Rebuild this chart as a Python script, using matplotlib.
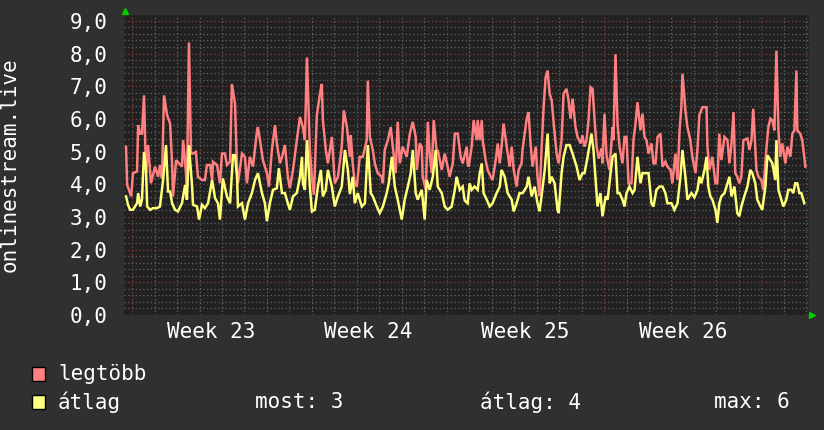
import matplotlib
matplotlib.use("Agg")
import matplotlib.pyplot as plt
from matplotlib.patches import Rectangle
from matplotlib.ticker import MultipleLocator

# ── data (days since start of week 23) ────────────────────────────────────────
max_t = [
    -0.27, -0.22, -0.04, 0.04, 0.22, 0.27, 0.36, 0.44, 0.53, 0.62, 0.71, 0.84,
    1.02, 1.16, 1.24, 1.33, 1.42, 1.56, 1.69, 1.78, 1.82, 1.96, 2.22, 2.27,
    2.36, 2.44, 2.53, 2.62, 2.71, 2.84, 2.93, 3.11, 3.24, 3.33, 3.47, 3.56,
    3.60, 3.78, 3.91, 4.00, 4.13, 4.22, 4.36, 4.44, 4.58, 4.67, 4.71, 4.89,
    5.02, 5.11, 5.24, 5.38, 5.56, 5.60, 5.69, 5.82, 6.00, 6.09, 6.22, 6.36,
    6.44, 6.58, 6.67, 6.80, 6.93, 7.02, 7.16, 7.33, 7.47, 7.60, 7.69, 7.78,
    7.91, 8.00, 8.09, 8.22, 8.36, 8.44, 8.49, 8.62, 8.71, 8.89, 9.02, 9.16,
    9.33, 9.42, 9.56, 9.69, 9.73, 9.82, 9.91, 10.00, 10.13, 10.27, 10.44, 10.49,
    10.58, 10.71, 10.80, 10.93, 11.11, 11.16, 11.24, 11.38, 11.51, 11.60, 11.73, 11.82,
    11.91, 12.04, 12.22, 12.36, 12.49, 12.62, 12.67, 12.80, 12.89, 12.93, 13.07, 13.16,
    13.24, 13.33, 13.42, 13.56, 13.60, 13.78, 13.91, 14.04, 14.13, 14.27, 14.36, 14.49,
    14.62, 14.71, 14.89, 14.93, 14.98, 15.11, 15.20, 15.33, 15.38, 15.47, 15.56, 15.60,
    15.73, 15.82, 15.96, 16.04, 16.18, 16.27, 16.36, 16.44, 16.53, 16.67, 16.80, 16.89,
    16.98, 17.11, 17.20, 17.33, 17.38, 17.56, 17.64, 17.73, 17.82, 17.96, 18.04, 18.13,
    18.22, 18.31, 18.40, 18.49, 18.58, 18.67, 18.76, 18.89, 18.98, 19.11, 19.20, 19.33,
    19.42, 19.51, 19.60, 19.73, 19.82, 19.96, 20.04, 20.13, 20.22, 20.31, 20.40, 20.49,
    20.58, 20.67, 20.76, 20.89, 20.93, 21.02, 21.11, 21.24, 21.38, 21.42, 21.51, 21.60,
    21.69, 21.82, 21.91, 22.00, 22.09, 22.22, 22.31, 22.40, 22.49, 22.62, 22.71, 22.80,
    22.89, 22.98, 23.11, 23.20, 23.29, 23.38, 23.51, 23.60, 23.73, 23.82, 23.96, 24.04,
    24.18, 24.27, 24.36, 24.44, 24.49, 24.62, 24.71, 24.84, 24.93, 25.07, 25.16, 25.24,
    25.38, 25.56, 25.60, 25.69, 25.82, 25.96, 26.04, 26.13, 26.22, 26.36, 26.49, 26.58,
    26.67, 26.76, 26.84, 26.93, 27.02, 27.11, 27.20, 27.38, 27.47, 27.56, 27.64, 27.78,
    27.87, 28.00, 28.09, 28.22, 28.31, 28.40, 28.49, 28.58, 28.67, 28.76, 28.84, 28.93,
    29.07, 29.16, 29.29, 29.38, 29.47, 29.56, 29.60, 29.73, 29.82, 29.96,
]
max_v = [
    5.15, 3.98, 3.63, 4.34, 4.39, 5.81, 5.55, 5.55, 6.72, 4.34, 5.20, 4.03,
    4.54, 4.23, 4.59, 4.18, 6.72, 6.11, 5.86, 4.64, 3.63, 4.74, 4.54, 5.35,
    4.69, 3.93, 8.34, 4.94, 4.94, 4.99, 4.23, 4.13, 4.13, 4.59, 4.59, 4.13,
    4.69, 4.59, 4.03, 4.94, 4.94, 4.59, 4.69, 7.07, 6.46, 4.44, 4.03, 4.94,
    4.84, 4.03, 4.84, 4.54, 5.65, 5.75, 5.35, 4.74, 4.34, 3.93, 5.05, 5.81,
    5.25, 4.64, 4.84, 5.20, 4.23, 3.88, 4.44, 5.35, 6.06, 5.75, 5.35, 7.88,
    5.05, 4.23, 3.68, 6.11, 6.77, 7.07, 5.96, 5.05, 4.64, 5.45, 4.03, 4.23,
    5.15, 6.26, 5.75, 4.84, 5.50, 4.60, 4.03, 3.93, 4.84, 4.84, 5.35, 7.17,
    5.45, 5.05, 4.64, 4.34, 4.23, 4.03, 5.05, 5.35, 5.75, 5.15, 4.34, 5.91,
    4.64, 5.15, 4.84, 5.55, 5.91, 5.45, 4.44, 5.25, 5.15, 4.23, 3.83, 5.91,
    4.94, 4.34, 5.96, 4.94, 5.05, 4.44, 4.94, 4.54, 4.23, 4.64, 5.55, 5.55,
    4.84, 4.64, 5.15, 4.64, 4.54, 5.15, 5.96, 5.35, 5.96, 5.35, 5.96, 5.35,
    4.74, 4.44, 4.23, 4.13, 4.74, 5.25, 4.64, 5.15, 5.86, 5.15, 4.54, 5.15,
    4.44, 3.93, 4.44, 4.64, 5.10, 6.01, 6.21, 5.25, 4.54, 5.15, 4.23, 3.63,
    5.05, 6.36, 7.27, 7.48, 6.77, 6.57, 5.86, 4.94, 4.64, 5.35, 6.77, 6.92,
    6.57, 6.01, 6.62, 5.75, 5.45, 5.25, 5.50, 5.15, 5.35, 5.96, 6.97, 6.92,
    5.96, 5.15, 4.79, 5.10, 4.64, 6.16, 4.89, 4.44, 5.75, 5.35, 7.98, 5.86,
    5.15, 4.64, 5.45, 5.45, 4.03, 4.03, 5.35, 5.86, 6.51, 5.65, 6.16, 5.45,
    5.35, 4.94, 5.25, 4.64, 4.64, 5.45, 5.55, 4.54, 4.69, 4.54, 4.44, 4.03,
    4.94, 4.13, 5.65, 6.36, 7.38, 6.26, 5.75, 5.35, 4.84, 4.34, 5.10, 6.11,
    6.36, 6.36, 5.15, 4.44, 4.84, 4.03, 4.03, 5.55, 4.74, 5.45, 5.35, 4.64,
    5.25, 6.21, 4.34, 4.23, 4.03, 4.23, 5.35, 5.40, 5.05, 5.35, 6.31, 4.44,
    4.23, 4.13, 3.83, 5.05, 5.75, 6.01, 5.96, 5.65, 8.09, 5.65, 4.84, 5.25,
    4.64, 5.15, 4.84, 5.55, 5.65, 7.48, 5.65, 5.55, 5.35, 4.54,
]

avg_t = [
    -0.27, -0.18, -0.09, 0.04, 0.22, 0.27, 0.36, 0.44, 0.53, 0.62, 0.67, 0.80,
    0.93, 1.11, 1.24, 1.38, 1.51, 1.60, 1.69, 1.78, 1.91, 2.04, 2.22, 2.36,
    2.44, 2.53, 2.67, 2.71, 2.89, 2.98, 3.11, 3.24, 3.38, 3.56, 3.69, 3.82,
    3.91, 4.04, 4.22, 4.36, 4.49, 4.58, 4.67, 4.71, 4.89, 5.02, 5.16, 5.33,
    5.47, 5.60, 5.78, 5.91, 6.00, 6.13, 6.27, 6.44, 6.53, 6.67, 6.80, 6.93,
    7.02, 7.16, 7.33, 7.47, 7.56, 7.60, 7.69, 7.78, 7.91, 8.00, 8.13, 8.27,
    8.40, 8.49, 8.62, 8.71, 8.89, 9.02, 9.16, 9.33, 9.47, 9.60, 9.69, 9.82,
    9.91, 10.04, 10.22, 10.36, 10.49, 10.62, 10.71, 10.89, 11.02, 11.16, 11.33, 11.42,
    11.56, 11.69, 11.82, 12.00, 12.13, 12.27, 12.40, 12.49, 12.62, 12.71, 12.89, 13.02,
    13.11, 13.24, 13.38, 13.51, 13.60, 13.78, 13.91, 14.04, 14.22, 14.36, 14.44, 14.58,
    14.71, 14.80, 14.93, 15.02, 15.11, 15.24, 15.38, 15.47, 15.56, 15.64, 15.78, 15.91,
    16.04, 16.22, 16.36, 16.44, 16.58, 16.71, 16.89, 16.98, 17.11, 17.24, 17.38, 17.56,
    17.64, 17.78, 17.91, 18.04, 18.13, 18.22, 18.36, 18.49, 18.58, 18.67, 18.80, 18.93,
    18.98, 19.11, 19.20, 19.33, 19.47, 19.60, 19.78, 19.91, 20.04, 20.13, 20.27, 20.44,
    20.53, 20.67, 20.71, 20.84, 20.93, 21.07, 21.16, 21.29, 21.38, 21.51, 21.60, 21.69,
    21.82, 21.91, 22.00, 22.13, 22.27, 22.36, 22.49, 22.62, 22.71, 22.84, 22.98, 23.11,
    23.20, 23.33, 23.47, 23.60, 23.73, 23.82, 24.00, 24.13, 24.27, 24.40, 24.49, 24.62,
    24.71, 24.89, 25.02, 25.16, 25.24, 25.33, 25.47, 25.56, 25.64, 25.73, 25.82, 25.96,
    26.04, 26.13, 26.22, 26.36, 26.49, 26.58, 26.67, 26.80, 26.93, 27.02, 27.11, 27.24,
    27.38, 27.51, 27.60, 27.73, 27.82, 27.96, 28.04, 28.18, 28.27, 28.40, 28.49, 28.62,
    28.67, 28.76, 28.89, 28.98, 29.11, 29.20, 29.33, 29.42, 29.51, 29.60, 29.69, 29.78,
    29.91,
]
avg_v = [
    3.63, 3.37, 3.22, 3.22, 3.42, 3.73, 3.32, 3.53, 4.99, 4.44, 3.32, 3.22,
    3.27, 3.27, 3.32, 4.13, 5.20, 3.78, 3.78, 3.42, 3.22, 3.17, 3.42, 3.98,
    3.53, 5.20, 3.93, 3.37, 3.32, 2.92, 3.37, 3.27, 3.42, 4.13, 3.58, 3.42,
    2.92, 4.18, 3.63, 3.42, 4.89, 4.89, 4.23, 3.32, 3.42, 2.92, 3.42, 3.73,
    4.13, 4.34, 3.73, 3.42, 2.87, 3.42, 3.83, 3.88, 4.49, 3.73, 3.73, 3.42,
    3.22, 3.63, 3.73, 4.23, 4.84, 4.03, 3.83, 5.35, 3.93, 3.17, 3.22, 3.93,
    4.44, 3.63, 3.83, 4.44, 3.93, 3.32, 3.63, 3.93, 5.05, 4.44, 3.70, 4.23,
    3.42, 3.73, 3.32, 3.42, 5.20, 3.73, 3.63, 3.32, 3.12, 3.32, 3.73, 4.03,
    4.84, 3.93, 3.53, 2.92, 3.53, 3.93, 4.34, 5.05, 3.73, 3.53, 3.83, 2.92,
    4.13, 3.83, 4.23, 5.05, 3.93, 3.73, 3.32, 3.22, 3.32, 3.83, 4.23, 3.83,
    3.93, 3.50, 3.42, 4.03, 3.83, 3.93, 3.83, 4.34, 4.64, 3.73, 3.53, 3.32,
    3.42, 3.73, 3.93, 4.44, 4.23, 3.73, 3.53, 3.17, 3.42, 3.73, 3.73, 3.93,
    4.23, 3.63, 3.93, 3.42, 3.17, 3.63, 4.44, 5.55, 4.03, 4.23, 4.03, 3.22,
    3.12, 4.34, 4.84, 5.20, 5.20, 4.94, 4.54, 4.13, 4.34, 4.34, 4.84, 5.55,
    5.05, 3.73, 3.32, 3.73, 3.02, 3.63, 3.53, 4.34, 4.84, 4.94, 3.73, 3.73,
    3.53, 3.32, 3.73, 3.93, 3.73, 3.83, 4.84, 4.03, 4.34, 4.34, 4.34, 3.42,
    3.32, 3.83, 3.93, 3.93, 3.73, 3.42, 3.42, 3.22, 3.42, 4.23, 5.05, 4.23,
    3.53, 3.73, 3.60, 3.83, 4.23, 4.03, 4.44, 4.84, 3.93, 3.63, 3.53, 3.22,
    2.82, 3.42, 3.63, 3.73, 4.03, 4.23, 3.63, 3.93, 3.12, 3.02, 3.32, 3.63,
    3.93, 4.44, 4.34, 4.03, 3.53, 3.32, 3.22, 3.93, 4.89, 4.74, 4.64, 4.13,
    5.35, 3.83, 3.53, 3.32, 3.53, 3.83, 3.83, 3.73, 4.03, 4.03, 3.73, 3.73,
    3.42,
]

week_starts = [0, 7, 14, 21, 28]
week_labels = ["Week 23", "Week 24", "Week 25", "Week 26"]
y_ticks = [0, 1, 2, 3, 4, 5, 6, 7, 8, 9]
legend_rows = [("legtöbb", "#ff8080"), ("átlag", "#ffff80")]
stats = [("most", 3), ("átlag", 4), ("max", 6)]

# ── style ─────────────────────────────────────────────────────────────────────
BG      = "#303030"
CANVAS  = "#212121"
FG      = "#ffffff"
RED     = "#ff8080"
YELLOW  = "#ffff78"
GRID_MN = "#636363"
GRID_MJ = "#8a3c3c"
FONT    = "DejaVu Sans Mono"
FS      = 15

W, H = 824, 430
fig = plt.figure(figsize=(W / 100, H / 100), dpi=100, facecolor=BG)
ax = fig.add_axes([124 / W, 115 / H, 685 / W, 300 / H])
ax.set_facecolor(CANVAS)

ax.set_xlim(-0.36, 30.12)
ax.set_ylim(0, 9.18)

# grid: minor (gray) per day / 0.2, major (red) per week / 1.0
ax.xaxis.set_minor_locator(MultipleLocator(1))
ax.yaxis.set_minor_locator(MultipleLocator(0.2))
ax.set_xticks(week_starts)
ax.set_yticks(y_ticks)
ax.grid(which="minor", color=GRID_MN, linestyle=(0, (1, 2)), linewidth=0.9)
ax.grid(which="major", color=GRID_MJ, linestyle=(0, (1, 2)), linewidth=0.9)
ax.set_axisbelow(True)

ax.set_xticklabels([""] * len(week_starts))
ax.set_yticklabels([f"{v},0" for v in y_ticks], fontsize=FS, family=FONT, color=FG)
ax.tick_params(which="both", length=0)
ax.tick_params(axis="y", pad=12)
for s in ax.spines.values():
    s.set_visible(False)

for i, lab in enumerate(week_labels):
    mid = (week_starts[i] + week_starts[i + 1]) / 2
    ax.text(mid, -0.025, lab, transform=ax.get_xaxis_transform(),
            ha="center", va="top", fontsize=FS, family=FONT, color=FG)

ax.set_ylabel("onlinestream.live", fontsize=FS, family=FONT, color=FG)
ax.yaxis.set_label_coords(-0.153, 0.5)

# ── lines ─────────────────────────────────────────────────────────────────────
ax.plot(max_t, max_v, color=RED, linewidth=1.8, solid_joinstyle="miter")
ax.plot(avg_t, avg_v, color=YELLOW, linewidth=1.8, solid_joinstyle="miter")

# axis arrows
ax.plot([0.0015], [1.015], marker="^", color="#00cc00", markersize=5,
        transform=ax.transAxes, clip_on=False)
ax.plot([1.005], [0.0], marker=">", color="#00cc00", markersize=5,
        transform=ax.transAxes, clip_on=False)

# ── legend ────────────────────────────────────────────────────────────────────
row_y = [374, 402]
for (name, col), yy in zip(legend_rows, row_y):
    fig.patches.append(Rectangle((32 / W, 1 - (yy + 7) / H), 13 / W, 14 / H,
                                 transform=fig.transFigure, facecolor=col,
                                 edgecolor="black", linewidth=1))
    fig.text(58 / W, 1 - yy / H, name, fontsize=FS, family=FONT, color=FG,
             va="center", ha="left")

stat_x = [255, 480, 714]
for (name, val), xx in zip(stats, stat_x):
    fig.text(xx / W, 1 - row_y[1] / H, f"{name}: {val}", fontsize=FS,
             family=FONT, color=FG, va="center", ha="left")

fig.savefig("out.png", dpi=100, facecolor=BG)
